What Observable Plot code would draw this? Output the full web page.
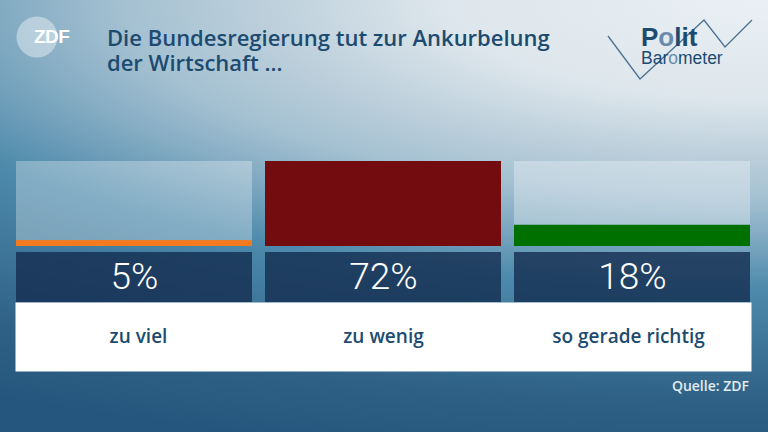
<!DOCTYPE html>
<html>
<head>
<meta charset="utf-8">
<script src="https://cdn.jsdelivr.net/npm/d3@7"></script>
<script src="https://cdn.jsdelivr.net/npm/@observablehq/plot@0.6"></script>
<style>
  html, body { margin: 0; padding: 0; }
  #frame {
    position: relative; width: 768px; height: 432px; overflow: hidden;
    background: radial-gradient(1300px 400px at 100% 0%,
      #eaf0f4 0%, #dde6ec 25%, #bccfdb 39%, #a3c0d1 50%, #86adc4 58%, #4d8aab 72%, #2f6186 100%, #25577e 116%);
    font-family: "Open Sans", sans-serif;
  }
  #title {
    position: absolute; left: 107px; top: 25px; margin: 0;
    font-size: 22px; line-height: 25px; font-weight: 600; color: #1d4b70;
  }
  #source {
    position: absolute; right: 19px; top: 376px;
    font-size: 14px; font-weight: 600; color: #e3ecf2;
  }
  .plotbox { position: absolute; left: 0; }
  svg.logo { position: absolute; left: 0; top: 0; }
</style>
</head>
<body>
<div id="frame">
  <svg class="logo" width="768" height="110">
    <circle cx="37" cy="37" r="20.5" fill="white" fill-opacity="0.4"></circle>
    <text x="34" y="43" font-family="Liberation Sans, sans-serif" font-weight="bold" font-size="19" fill="white" letter-spacing="-0.5">ZDF</text>
    <polyline points="608,36 640,79 704,20 725,47 752,20" fill="none" stroke="#4d7090" stroke-width="1.3"></polyline>
    <text x="641" y="46" font-family="Liberation Sans, sans-serif" font-weight="bold" font-size="26" fill="#1d4b70">P<tspan fill="#6a8cab">o</tspan>lit</text>
    <text x="641" y="64" font-family="Liberation Sans, sans-serif" font-size="17.5" fill="#1d4b70">Bar<tspan fill="#6a8cab">o</tspan>meter</text>
  </svg>
  <div id="title"></div>
  <div class="plotbox" id="bars" style="top:161px"></div>
  <div class="plotbox" id="pcts" style="top:252px"></div>
  <div class="plotbox" id="labels" style="top:302px"></div>
  <div id="source"></div>
</div>
<script>
// ---- data ----
const titleLines = ["Die Bundesregierung tut zur Ankurbelung", "der Wirtschaft ..."];
const categories = ["zu viel", "zu wenig", "so gerade richtig"];
const values = [5, 72, 18];
const barColors = ["#f47a1f", "#720c0e", "#007100"];
const sourceText = "Quelle: ZDF";

const data = categories.map((c, i) => ({category: c, value: values[i], color: barColors[i]}));
const maxValue = d3.max(values);

document.getElementById("title").innerHTML = titleLines.join("<br>");
document.getElementById("source").textContent = sourceText;

const common = {
  width: 768,
  marginTop: 0, marginBottom: 0, marginLeft: 15, marginRight: 17,
  x: {domain: categories, paddingInner: 0.052, paddingOuter: 0, axis: null},
  style: {background: "transparent", overflow: "visible"}
};

// bars
document.getElementById("bars").append(Plot.plot({
  ...common,
  height: 85,
  y: {domain: [0, maxValue], axis: null},
  color: {type: "identity"},
  marks: [
    Plot.barY(data, {x: "category", y1: 0, y2: () => maxValue, fill: "white", fillOpacity: 0.3, inset: 0}),
    Plot.barY(data, {x: "category", y: "value", fill: "color", inset: 0})
  ]
}));

// percentages
document.getElementById("pcts").append(Plot.plot({
  ...common,
  height: 50,
  marks: [
    Plot.cell(data, {x: "category", fill: "#142d50", fillOpacity: 0.8, inset: 0}),
    Plot.text(data, {x: "category", text: d => d.value + "%", fill: "white", fontSize: 37,
      fontWeight: 300, fontFamily: "Roboto, sans-serif", dy: 0})
  ]
}));

// labels
document.getElementById("labels").append(Plot.plot({
  ...common,
  height: 69,
  marks: [
    Plot.frame({fill: "white", stroke: "none"}),
    Plot.text(data, {x: "category", text: "category", fill: "#1d4b70", fontSize: 19, fontWeight: 600,
      fontFamily: "Open Sans, sans-serif"})
  ]
}));
</script>
</body>
</html>
